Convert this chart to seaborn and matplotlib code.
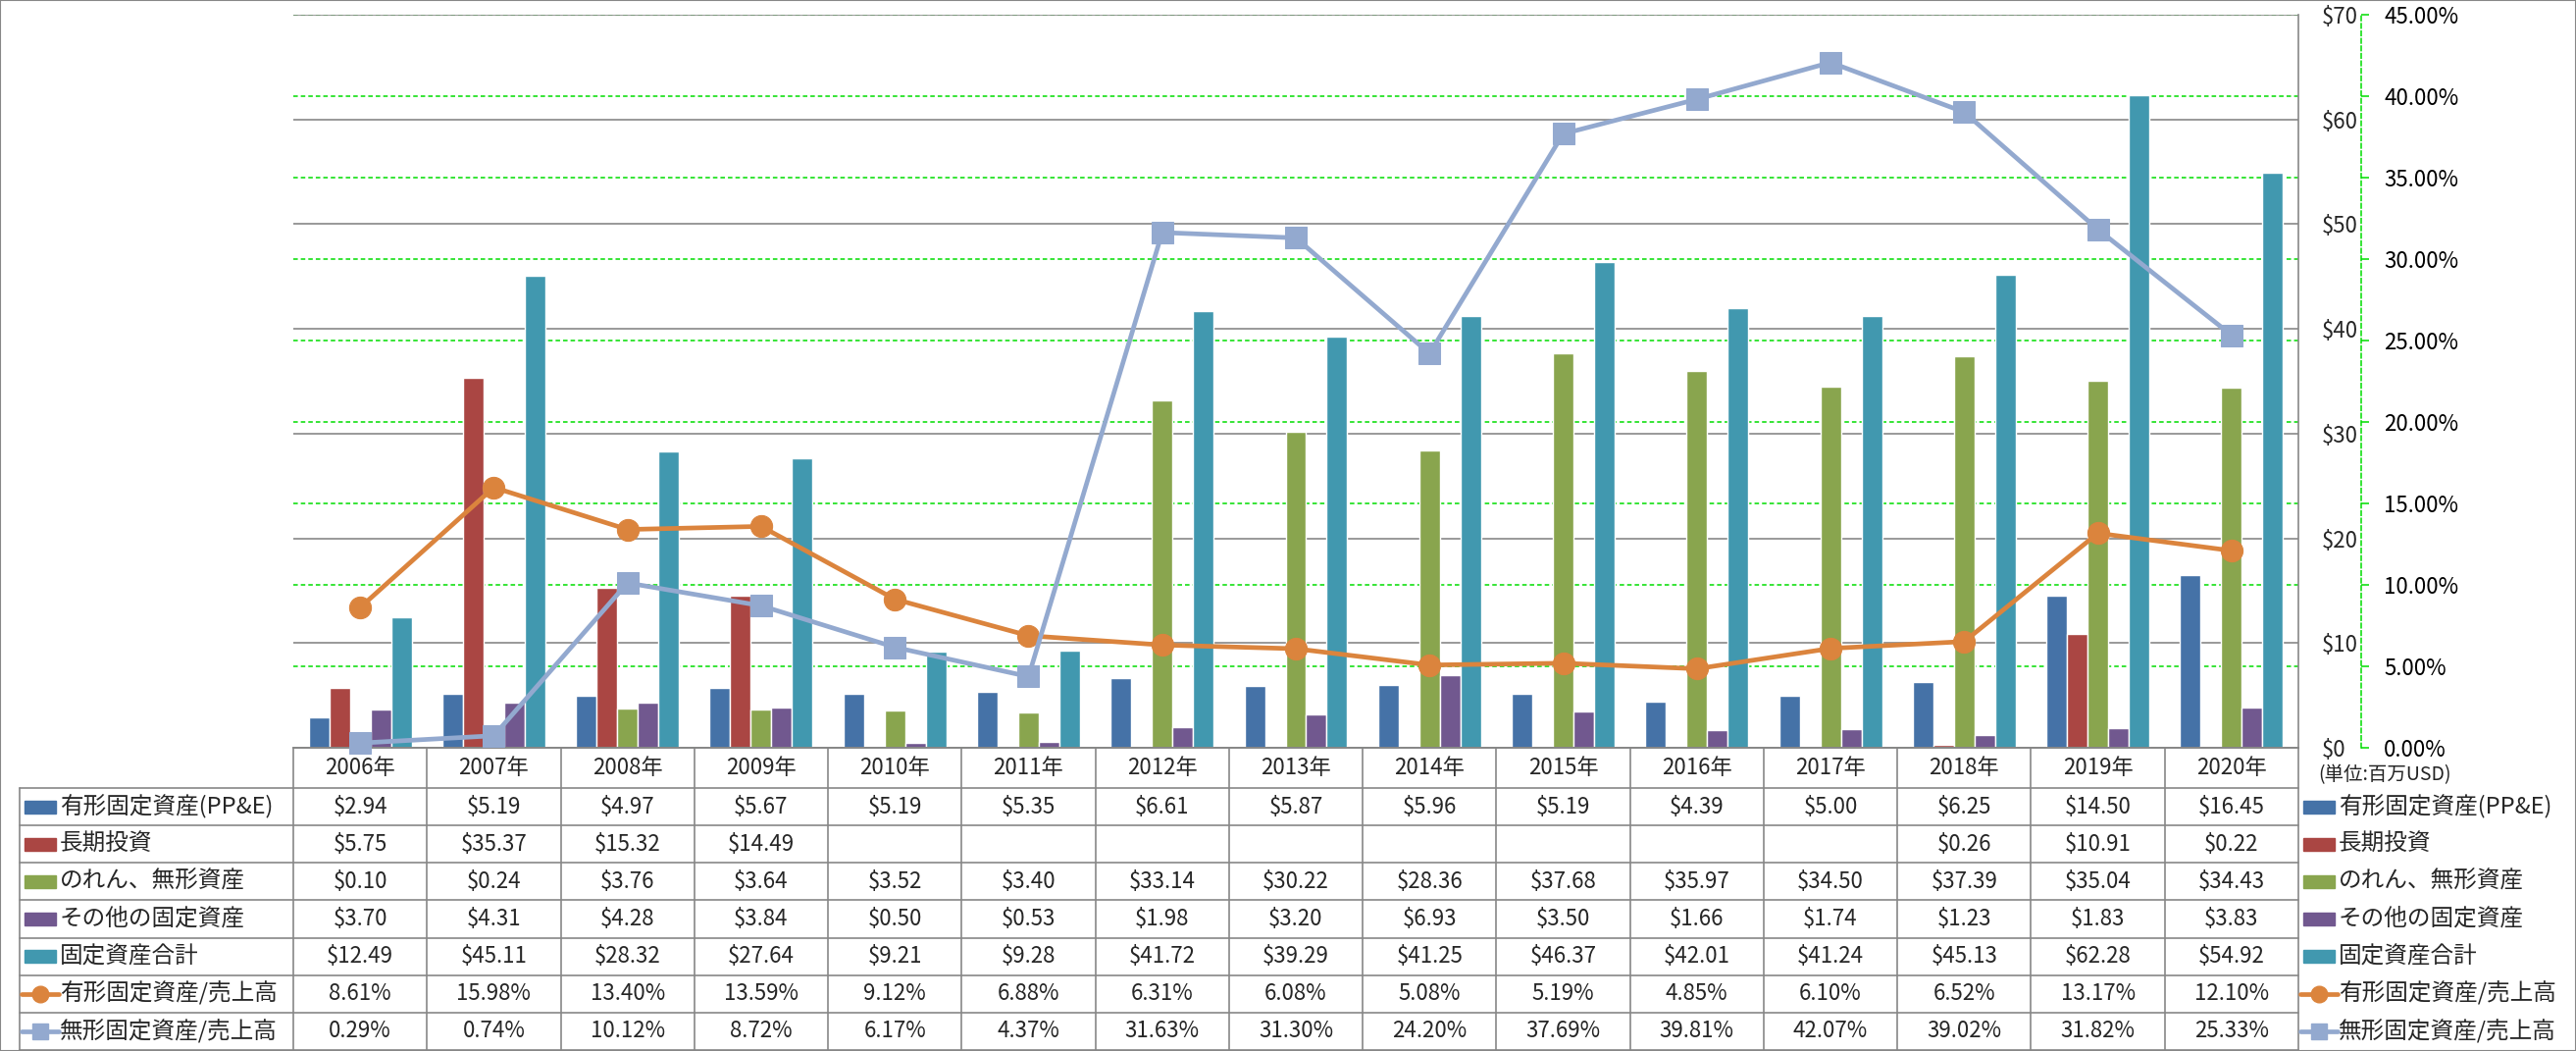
import numpy as np
import pandas as pd
import matplotlib
matplotlib.use("Agg")
import matplotlib.pyplot as plt
import seaborn as sns
from matplotlib.patches import Rectangle

nan = np.nan
years = [f"{y}年" for y in range(2006, 2021)]
ppe = [2.94, 5.19, 4.97, 5.67, 5.19, 5.35, 6.61, 5.87, 5.96, 5.19, 4.39, 5.00, 6.25, 14.50, 16.45]
long_inv = [5.75, 35.37, 15.32, 14.49, nan, nan, nan, nan, nan, nan, nan, nan, 0.26, 10.91, 0.22]
goodwill = [0.10, 0.24, 3.76, 3.64, 3.52, 3.40, 33.14, 30.22, 28.36, 37.68, 35.97, 34.50, 37.39, 35.04, 34.43]
other = [3.70, 4.31, 4.28, 3.84, 0.50, 0.53, 1.98, 3.20, 6.93, 3.50, 1.66, 1.74, 1.23, 1.83, 3.83]
total = [12.49, 45.11, 28.32, 27.64, 9.21, 9.28, 41.72, 39.29, 41.25, 46.37, 42.01, 41.24, 45.13, 62.28, 54.92]
ppe_ratio = [8.61, 15.98, 13.40, 13.59, 9.12, 6.88, 6.31, 6.08, 5.08, 5.19, 4.85, 6.10, 6.52, 13.17, 12.10]
intang_ratio = [0.29, 0.74, 10.12, 8.72, 6.17, 4.37, 31.63, 31.30, 24.20, 37.69, 39.81, 42.07, 39.02, 31.82, 25.33]

bar_names = ["有形固定資産(PP&E)", "長期投資", "のれん、無形資産", "その他の固定資産", "固定資産合計"]
bar_values = [ppe, long_inv, goodwill, other, total]
bar_colors = ["#4572A7", "#AA4643", "#89A54E", "#71588F", "#4198AF"]
line_names = ["有形固定資産/売上高", "無形固定資産/売上高"]
line_values = [ppe_ratio, intang_ratio]
line_colors = ["#DB843D", "#93A9CF"]
line_markers = ["o", "s"]

rows = []
for name, vals in zip(bar_names, bar_values):
    for y, v in zip(years, vals):
        rows.append({"year": y, "series": name, "value": v})
df = pd.DataFrame(rows)

sns.set_style("white")
plt.rcParams["font.family"] = ["Noto Sans CJK JP", "DejaVu Sans"]

W, H = 2626, 1071
fig = plt.figure(figsize=(W / 100, H / 100), dpi=100)
L, R, T, B = 299, 2343, 15, 762
pos = [L / W, (H - B) / H, (R - L) / W, (B - T) / H]
GRAY = "#878787"
GREEN = "#00DD00"

# green percent grid in the back
ax_g = fig.add_axes(pos, zorder=0)
ax_g.set_xlim(-0.5, 14.5)
ax_g.set_ylim(0, 45)
ax_g.set_yticks(np.arange(0, 46, 5))
ax_g.set_xticks([])
ax_g.set_yticklabels([])
ax_g.tick_params(left=False, right=False, length=0)
ax_g.grid(axis="y", color=GREEN, linestyle=(0, (3, 2)), linewidth=1.1)
for s in ax_g.spines.values():
    s.set_visible(False)

# bars
ax = fig.add_axes(pos, zorder=1)
ax.patch.set_visible(False)
sns.barplot(data=df, x="year", y="value", hue="series", hue_order=bar_names,
            palette=bar_colors, width=0.77, saturation=1, errorbar=None,
            legend=False, ax=ax)

# ratio lines
ax2 = ax.twinx()
ax2.set_zorder(3)
ax2.patch.set_visible(False)
xs = np.arange(len(years))
for vals, c, m in zip(line_values, line_colors, line_markers):
    sns.lineplot(x=xs, y=vals, color=c, marker=m, markersize=16, linewidth=3.4,
                 markeredgecolor=c, ax=ax2, clip_on=False)
ax2.set_ylim(0, 45)
ax2.set_yticks(np.arange(0, 46, 5))
ax2.set_yticklabels([f"{v:.2f}%" for v in np.arange(0, 46, 5)])
ax2.set_ylabel("")
for k in ["left", "top", "bottom"]:
    ax2.spines[k].set_visible(False)
ax2.spines["right"].set_position(("outward", 46))
ax2.spines["right"].set_color(GREEN)
ax2.spines["right"].set_linestyle((0, (3, 2)))
ax2.spines["right"].set_linewidth(1.1)
ax2.tick_params(axis="y", colors=GREEN, labelcolor="black", length=5.8, width=1.1,
                pad=11, labelsize=16)

# dollar axis (after twinx, which moves ticks to the left)
ax.set_xlim(-0.5, 14.5)
ax.set_ylim(0, 70)
ax.set_yticks(np.arange(0, 71, 10))
ax.set_yticklabels([f"${v}" for v in range(0, 71, 10)])
ax.yaxis.tick_right()
ax.yaxis.set_label_position("right")
ax.tick_params(axis="y", length=0, pad=17, labelsize=16)
ax.set_xticks([])
ax.set_xlabel("")
ax.set_ylabel("")
ax.set_axisbelow(True)
ax.grid(axis="y", color=GRAY, linewidth=1.2)
ax.spines["left"].set_visible(False)
ax.spines["top"].set_visible(False)
ax.spines["right"].set_color(GRAY)
ax.spines["bottom"].set_color(GRAY)
ax.spines["right"].set_linewidth(1.2)
ax.spines["bottom"].set_linewidth(1.2)

fig.text(2363 / W, 1 - 790 / H, "(単位:百万USD)", fontsize=14, ha="left", va="center",
         color="#222222")

# data table
colw = (R - L) / 15
def px2x(px):
    return (px - L) / colw - 0.5

tab = fig.add_axes([L / W, 1 / H, (R - L) / W, (H - 1 - B) / H], zorder=2)
tab.set_xlim(-0.5, 14.5)
tab.set_ylim(H - 1, B)
tab.axis("off")
head_bot = 803
row_h = (H - 1 - head_bot) / 7
bounds = [head_bot + i * row_h for i in range(8)]
x_left = px2x(20)

tab.plot([-0.5, 14.5], [B, B], color=GRAY, lw=1.2, clip_on=False)
for yb in bounds:
    tab.plot([x_left, 14.5], [yb, yb], color=GRAY, lw=1.2, clip_on=False)
for i in range(16):
    tab.plot([i - 0.5, i - 0.5], [B, bounds[-1]], color=GRAY, lw=1.2, clip_on=False)
tab.plot([x_left, x_left], [head_bot, bounds[-1]], color=GRAY, lw=1.2, clip_on=False)

for i, y in enumerate(years):
    tab.text(i, (B + head_bot) / 2, y, ha="center", va="center", fontsize=16)

all_names = bar_names + line_names
all_vals = bar_values + line_values
for r, (name, vals) in enumerate(zip(all_names, all_vals)):
    yc = (bounds[r] + bounds[r + 1]) / 2
    for i, v in enumerate(vals):
        if np.isnan(v):
            continue
        txt = f"${v:.2f}" if r < 5 else f"{v:.2f}%"
        tab.text(i, yc, txt, ha="center", va="center", fontsize=16)
    for p0, p1, tx in [(25, 57, 61), (2348, 2380, 2384)]:
        if r < 5:
            tab.add_patch(Rectangle((px2x(p0), yc - 6.5), px2x(p1) - px2x(p0), 13,
                                    color=bar_colors[r], clip_on=False))
        else:
            c = line_colors[r - 5]
            tab.plot([px2x(p0 - 3), px2x(p1 + 3)], [yc, yc], color=c, lw=3.4,
                     clip_on=False)
            tab.plot([px2x((p0 + p1) / 2)], [yc], marker=line_markers[r - 5],
                     markersize=12, color=c, clip_on=False)
        tab.text(px2x(tx), yc, name, ha="left", va="center", fontsize=17)

fig.add_artist(Rectangle((0, 0), 1, 1, transform=fig.transFigure, fill=False,
                         edgecolor=GRAY, lw=1.5))

fig.savefig("out.png", dpi=100)
